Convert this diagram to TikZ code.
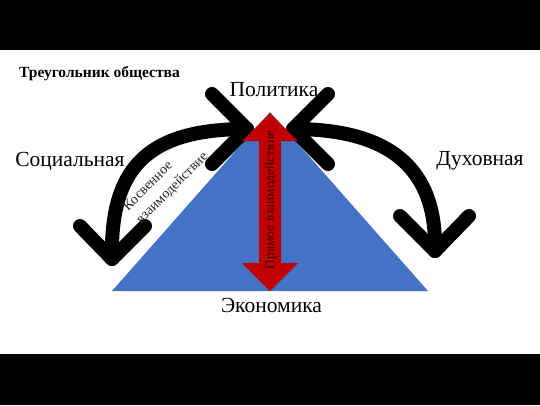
\documentclass[tikz,border=0pt]{standalone}
\usepackage{fontspec}
\setmainfont{Liberation Serif}
\definecolor{triblue}{HTML}{4472C4}
\definecolor{arrred}{HTML}{C00000}
\definecolor{darkred}{RGB}{60,0,0}
\definecolor{txtgray}{RGB}{40,40,40}
\begin{document}
\begin{tikzpicture}[x=1pt,y=-1pt,
  lbl/.style={font=\fontsize{21.5}{25}\selectfont, inner sep=0pt, anchor=base},
  curvearrow/.style={line width=14pt, line cap=round, line join=round, draw=black},
]
\useasboundingbox (0,0) rectangle (540,405);
\fill[white] (0,0) rectangle (540,405);
\fill[black] (0,0) rectangle (540,50);
\fill[black] (0,354) rectangle (540,405);

% triangle
\fill[triblue] (270,112) -- (112,291) -- (428,291) -- cycle;

% curved arrows
\coordinate (L1) at (247,129);
\coordinate (L2) at (112,259);
\coordinate (R1) at (293,129);
\coordinate (R2) at (435,251);
\draw[curvearrow] (L1) .. controls (145,129) and (110,170) .. (L2);
\draw[curvearrow] (212,94) -- (L1) -- (212,164);
\draw[curvearrow] (80,226) -- (L2) -- (145,226);
\draw[curvearrow] (R1) .. controls (392,129) and (437,170) .. (R2);
\draw[curvearrow] (328,94) -- (R1) -- (328,164);
\draw[curvearrow] (400,216) -- (R2) -- (469,216);

% red double arrow
\fill[arrred] (270,113) -- (298,141) -- (281,141) -- (281,263) -- (298,263)
  -- (270,291) -- (242,263) -- (259,263) -- (259,141) -- (242,141) -- cycle;

% texts
\node[font=\bfseries\fontsize{15.5}{18}\selectfont, inner sep=0pt, anchor=base west] (title) at (19,77) {Треугольник общества};
\node[lbl] (pol) at (274,96) {Политика};
\node[lbl] (soc) at (70,166) {Социальная};
\node[lbl] (duh) at (480,165) {Духовная};
\node[lbl] (eco) at (271.5,312) {Экономика};
\node[font=\fontsize{13.5}{16}\selectfont, text=darkred, rotate=90, inner sep=0pt] (direct) at (271,200) {Прямое взаимодействие};
\node[font=\fontsize{14}{18.5}\selectfont, text=txtgray, rotate=45, align=left, inner sep=0pt] (indirect) at (166,182) {Косвенное\\взаимодействие};
\end{tikzpicture}
\end{document}
